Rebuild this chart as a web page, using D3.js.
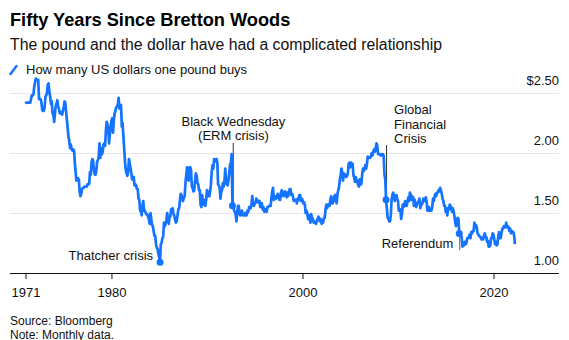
<!DOCTYPE html>
<html>
<head>
<meta charset="utf-8">
<script src="https://cdn.jsdelivr.net/npm/d3@7"></script>
<style>
  html, body { margin: 0; padding: 0; background: #fff; }
  svg { display: block; font-family: "Liberation Sans", Arial, sans-serif; }
  .title { font-size: 18.2px; font-weight: bold; fill: #000; }
  .subtitle { font-size: 15.8px; fill: #111; }
  .legend { font-size: 13px; fill: #111; }
  .axis text { font-size: 13px; fill: #111; font-family: "Liberation Sans", Arial, sans-serif; }
  .note { font-size: 12px; fill: #111; }
  .anno { font-size: 13px; fill: #111; }
</style>
</head>
<body>
<svg id="chart" width="569" height="340"></svg>
<script>
// GBP/USD, monthly (month-end), starting January 1971
const startYear = 1971;
const rate1970s = [
  2.41, 2.42, 2.42, 2.42, 2.42, 2.42, 2.42, 2.45, 2.48, 2.48, 2.49, 2.55, // 1971
  2.59, 2.62, 2.61, 2.61, 2.61, 2.45, 2.45, 2.45, 2.42, 2.36, 2.35, 2.35, // 1972
  2.38, 2.47, 2.48, 2.50, 2.57, 2.58, 2.51, 2.47, 2.41, 2.43, 2.33, 2.32, // 1973
  2.26, 2.33, 2.39, 2.41, 2.44, 2.39, 2.37, 2.33, 2.34, 2.34, 2.32, 2.35, // 1974
  2.38, 2.43, 2.42, 2.35, 2.28, 2.21, 2.14, 2.10, 2.04, 2.07, 2.03, 2.02, // 1975
  2.03, 2.02, 1.92, 1.84, 1.77, 1.78, 1.79, 1.78, 1.68, 1.64, 1.66, 1.70, // 1976
  1.71, 1.71, 1.72, 1.72, 1.72, 1.72, 1.74, 1.74, 1.74, 1.84, 1.82, 1.92, // 1977
  1.95, 1.93, 1.86, 1.82, 1.82, 1.85, 1.93, 1.94, 1.97, 2.08, 1.96, 2.04, // 1978
  1.99, 2.01, 2.07, 2.08, 2.06, 2.18, 2.26, 2.24, 2.20, 2.08, 2.16, 2.22  // 1979
];
const rate1980s = [
  2.27, 2.29, 2.17, 2.27, 2.33, 2.35, 2.38, 2.39, 2.40, 2.46, 2.37, 2.39,
  2.40, 2.22, 2.25, 2.14, 2.04, 1.93, 1.86, 1.83, 1.81, 1.84, 1.95, 1.91,
  1.87, 1.83, 1.78, 1.79, 1.80, 1.73, 1.74, 1.73, 1.70, 1.70, 1.62, 1.61,
  1.52, 1.52, 1.48, 1.56, 1.60, 1.52, 1.52, 1.50, 1.49, 1.49, 1.47, 1.45,
  1.41, 1.50, 1.45, 1.40, 1.39, 1.35, 1.31, 1.31, 1.24, 1.21, 1.20, 1.16,
  1.13, 1.09, 1.24, 1.25, 1.29, 1.30, 1.42, 1.39, 1.41, 1.44, 1.50, 1.45,
  1.41, 1.47, 1.47, 1.53, 1.51, 1.54, 1.49, 1.48, 1.44, 1.42, 1.43, 1.48,
  1.53, 1.54, 1.60, 1.66, 1.65, 1.61, 1.60, 1.63, 1.64, 1.75, 1.82, 1.88,
  1.78, 1.77, 1.88, 1.88, 1.86, 1.72, 1.71, 1.68, 1.69, 1.77, 1.83, 1.81,
  1.75, 1.74, 1.69, 1.69, 1.57, 1.55, 1.65, 1.57, 1.61, 1.58, 1.56, 1.61
];
const rate1990s = [
  1.69, 1.68, 1.64, 1.64, 1.68, 1.74, 1.84, 1.90, 1.87, 1.95, 1.94, 1.93,
  1.95, 1.92, 1.74, 1.73, 1.71, 1.62, 1.68, 1.69, 1.75, 1.72, 1.77, 1.87,
  1.78, 1.74, 1.73, 1.77, 1.83, 1.90, 1.92, 1.99, 1.56, 1.58, 1.52, 1.51,
  1.49, 1.43, 1.50, 1.56, 1.56, 1.49, 1.48, 1.50, 1.52, 1.48, 1.49, 1.48,
  1.50, 1.48, 1.48, 1.52, 1.51, 1.55, 1.54, 1.54, 1.58, 1.64, 1.57, 1.56,
  1.58, 1.58, 1.62, 1.61, 1.59, 1.59, 1.60, 1.55, 1.58, 1.58, 1.53, 1.55,
  1.51, 1.53, 1.53, 1.51, 1.55, 1.55, 1.56, 1.56, 1.56, 1.63, 1.68, 1.71,
  1.61, 1.63, 1.64, 1.62, 1.64, 1.66, 1.64, 1.61, 1.61, 1.67, 1.69, 1.65,
  1.64, 1.65, 1.68, 1.67, 1.63, 1.67, 1.64, 1.68, 1.70, 1.70, 1.65, 1.66,
  1.64, 1.60, 1.61, 1.61, 1.61, 1.58, 1.62, 1.61, 1.65, 1.65, 1.60, 1.62
];
const rate2000s = [
  1.61, 1.58, 1.59, 1.57, 1.50, 1.52, 1.50, 1.45, 1.48, 1.45, 1.42, 1.49,
  1.46, 1.45, 1.42, 1.43, 1.42, 1.41, 1.43, 1.45, 1.47, 1.45, 1.43, 1.45,
  1.41, 1.42, 1.42, 1.46, 1.46, 1.53, 1.57, 1.54, 1.57, 1.56, 1.56, 1.61,
  1.64, 1.58, 1.58, 1.60, 1.64, 1.65, 1.61, 1.58, 1.66, 1.69, 1.72, 1.78,
  1.82, 1.87, 1.84, 1.77, 1.83, 1.81, 1.82, 1.80, 1.81, 1.83, 1.91, 1.92,
  1.88, 1.92, 1.89, 1.91, 1.82, 1.79, 1.76, 1.80, 1.76, 1.77, 1.73, 1.72,
  1.78, 1.75, 1.74, 1.82, 1.87, 1.85, 1.87, 1.90, 1.87, 1.91, 1.97, 1.96,
  1.96, 1.96, 1.97, 2.00, 1.98, 2.01, 2.03, 2.01, 2.04, 2.08, 2.06, 1.99,
  1.99, 1.99, 1.98, 1.99, 1.98, 1.99, 1.98, 1.82, 1.78, 1.61, 1.54, 1.46,
  1.45, 1.43, 1.43, 1.48, 1.61, 1.65, 1.67, 1.63, 1.60, 1.65, 1.65, 1.62
];
const rate2010s = [
  1.60, 1.52, 1.52, 1.53, 1.45, 1.49, 1.57, 1.55, 1.57, 1.60, 1.56, 1.56,
  1.60, 1.63, 1.60, 1.67, 1.65, 1.61, 1.64, 1.63, 1.56, 1.61, 1.57, 1.55,
  1.58, 1.59, 1.60, 1.62, 1.54, 1.57, 1.57, 1.59, 1.62, 1.61, 1.60, 1.63,
  1.59, 1.52, 1.52, 1.55, 1.52, 1.52, 1.52, 1.55, 1.62, 1.60, 1.64, 1.66,
  1.64, 1.67, 1.67, 1.69, 1.68, 1.71, 1.69, 1.66, 1.62, 1.60, 1.56, 1.56,
  1.51, 1.54, 1.48, 1.54, 1.53, 1.57, 1.56, 1.53, 1.51, 1.54, 1.51, 1.47,
  1.42, 1.39, 1.44, 1.46, 1.45, 1.33, 1.32, 1.31, 1.30, 1.22, 1.25, 1.23,
  1.26, 1.24, 1.25, 1.29, 1.29, 1.30, 1.32, 1.29, 1.34, 1.33, 1.35, 1.35,
  1.42, 1.38, 1.40, 1.38, 1.33, 1.32, 1.31, 1.30, 1.30, 1.28, 1.28, 1.28,
  1.31, 1.33, 1.30, 1.30, 1.26, 1.27, 1.22, 1.22, 1.23, 1.29, 1.29, 1.33
];
const rate2020s = [
  1.32, 1.28, 1.24, 1.26, 1.23, 1.24, 1.31, 1.34, 1.29, 1.29, 1.33, 1.37,
  1.37, 1.39, 1.38, 1.38, 1.42, 1.38, 1.39, 1.38, 1.35, 1.37, 1.33, 1.35,
  1.34, 1.34, 1.31, 1.24
];

const xTicks = [1971, 1980, 2000, 2020];
const yTicks = [1, 1.5, 2, 2.5];
const yTickLabels = ["1.00", "1.50", "2.00", "$2.50"];

// date is [year, month index]
const events = [
  { date: [1985, 1], lines: ["Thatcher crisis"] },
  { date: [1992, 8], lines: ["Black Wednesday", "(ERM crisis)"] },
  { date: [2008, 9], lines: ["Global", "Financial", "Crisis"] },
  { date: [2016, 5], lines: ["Referendum"] },
];

const values = [...rate1970s, ...rate1980s, ...rate1990s, ...rate2000s, ...rate2010s, ...rate2020s];
const data = values.map((v, i) => ({ date: new Date(startYear, i, 1), value: v }));
const valueAt = (yr, m) => values[(yr - startYear) * 12 + m];

const svg = d3.select("#chart");
const blue = "#1473ff";

const x = d3.scaleTime()
  .domain([new Date(1971, 0, 1), new Date(2020, 0, 1)])
  .range([25.5, 493.5]);
const y = d3.scaleLinear().domain([1, 2.5]).range([273, 93]);

const left = 10, right = 559;

// header
svg.append("text").attr("class", "title").attr("x", 10).attr("y", 26)
  .text("Fifty Years Since Bretton Woods");
svg.append("text").attr("class", "subtitle").attr("x", 10).attr("y", 50)
  .text("The pound and the dollar have had a complicated relationship");
svg.append("line")
  .attr("x1", 10.5).attr("y1", 74).attr("x2", 16.5).attr("y2", 66)
  .attr("stroke", blue).attr("stroke-width", 2.5).attr("stroke-linecap", "round");
svg.append("text").attr("class", "legend").attr("x", 26).attr("y", 73.5)
  .text("How many US dollars one pound buys");

// y gridlines + labels
const yAxis = d3.axisRight(y)
  .tickValues(yTicks)
  .tickSize(-(right - left))
  .tickFormat((d, i) => yTickLabels[i]);
const gy = svg.append("g").attr("class", "axis").attr("transform", `translate(${right},0)`).call(yAxis);
gy.select(".domain").remove();
gy.selectAll(".tick line").attr("stroke", "#e6e6e6");
gy.selectAll(".tick text")
  .attr("x", 0).attr("dy", null).attr("y", -8.5)
  .attr("text-anchor", "end");

// x axis
const xAxis = d3.axisBottom(x)
  .tickValues(xTicks.map(t => new Date(t, 0, 1)))
  .tickSize(6)
  .tickPadding(9)
  .tickFormat(d3.timeFormat("%Y"));
const gx = svg.append("g").attr("class", "axis").attr("transform", "translate(0,273)").call(xAxis);
gx.select(".domain").remove();
gx.selectAll(".tick line").attr("stroke", "#111");
gx.append("line").attr("x1", left).attr("x2", right).attr("y1", 0.5).attr("y2", 0.5)
  .attr("stroke", "#111");

// annotation rules (behind the line)
const anno = svg.append("g");
function evX(e) { return x(new Date(e.date[0], e.date[1], 1)); }
function evY(e) { return y(valueAt(e.date[0], e.date[1])); }

const [thatcher, erm, gfc, brexit] = events;
anno.append("line")
  .attr("x1", evX(erm) + 0.8).attr("x2", evX(erm) + 0.8)
  .attr("y1", 143).attr("y2", evY(erm))
  .attr("stroke", "#333").attr("stroke-width", 1);
anno.append("line")
  .attr("x1", evX(gfc) + 0.5).attr("x2", evX(gfc) + 0.5)
  .attr("y1", 145).attr("y2", evY(gfc))
  .attr("stroke", "#333").attr("stroke-width", 1);
anno.append("line")
  .attr("x1", evX(brexit) + 0.5).attr("x2", evX(brexit) + 0.5)
  .attr("y1", evY(brexit)).attr("y2", 250)
  .attr("stroke", "#555").attr("stroke-width", 1);

// the series
svg.append("path")
  .datum(data)
  .attr("fill", "none")
  .attr("stroke", blue)
  .attr("stroke-width", 2.7)
  .attr("stroke-linejoin", "round")
  .attr("d", d3.line().x(d => x(d.date)).y(d => y(d.value)));

// event dots
svg.append("g").selectAll("circle")
  .data(events)
  .join("circle")
  .attr("cx", evX)
  .attr("cy", evY)
  .attr("r", 3.5)
  .attr("fill", blue);

// event labels
svg.append("text").attr("class", "anno")
  .attr("x", evX(thatcher) - 7).attr("y", 259.5)
  .attr("text-anchor", "end").text(thatcher.lines[0]);

const ermText = svg.append("text").attr("class", "anno").attr("text-anchor", "middle");
erm.lines.forEach((t, i) => ermText.append("tspan").attr("x", evX(erm) + 1).attr("y", 126 + i * 13.5).text(t));

const gfcText = svg.append("text").attr("class", "anno");
gfc.lines.forEach((t, i) => gfcText.append("tspan").attr("x", evX(gfc) + 8).attr("y", 114 + i * 14.5).text(t));

svg.append("text").attr("class", "anno")
  .attr("x", evX(brexit) - 6).attr("y", 247.5)
  .attr("text-anchor", "end").text(brexit.lines[0]);

// footer
svg.append("text").attr("class", "note").attr("x", 10).attr("y", 325).text("Source: Bloomberg");
svg.append("text").attr("class", "note").attr("x", 10).attr("y", 338.5).text("Note: Monthly data.");
</script>
</body>
</html>
